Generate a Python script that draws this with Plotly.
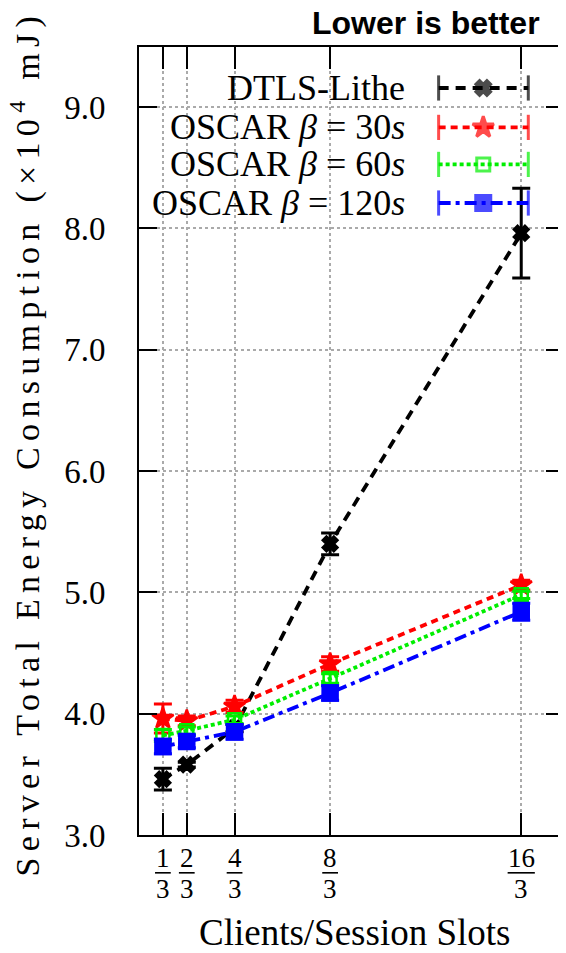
import plotly.graph_objects as go

# ---- data ----
x_vals = [1/3, 2/3, 4/3, 8/3, 16/3]
x_num = ["1", "2", "4", "8", "16"]
x_den = ["3", "3", "3", "3", "3"]

dtls = [3.46, 3.58, 3.88, 5.40, 7.96]
dtls_err = [0.09, 0.02, 0.03, 0.09, 0.37]
oscar30 = [3.96, 3.94, 4.06, 4.41, 5.06]
oscar30_err = [0.12, 0.04, 0.05, 0.06, 0.04]
oscar60 = [3.82, 3.86, 3.95, 4.29, 4.98]
oscar60_err = [0.05, 0.03, 0.03, 0.04, 0.03]
oscar120 = [3.73, 3.77, 3.85, 4.17, 4.84]
oscar120_err = [0.06, 0.05, 0.06, 0.06, 0.07]

y_ticks = [3, 4, 5, 6, 7, 8, 9]

series_names = ["DTLS-Lithe", "OSCAR <i>β</i> = 30<i>s</i>",
                "OSCAR <i>β</i> = 60<i>s</i>", "OSCAR <i>β</i> = 120<i>s</i>"]
series_vals = [dtls, oscar30, oscar60, oscar120]
series_err = [dtls_err, oscar30_err, oscar60_err, oscar120_err]
colors = ["#000000", "#ff0000", "#00ee00", "#0000ff"]
dashes = ["10px,7px", "7px,5px", "4px,3px", "12px,5px,4px,5px"]
symbols = ["x", "star", "square-open", "square"]
msizes = [13, 16, 13, 15]

SERIF = "Liberation Serif"

fig = go.Figure()

for name, vals, err, c, d, sym, ms in zip(series_names, series_vals, series_err,
                                         colors, dashes, symbols, msizes):
    fig.add_trace(go.Scatter(
        x=x_vals, y=vals, mode="lines+markers", name=name, showlegend=False,
        line=dict(color=c, width=3.8, dash=d),
        marker=dict(symbol=sym, size=ms, color=c, line=dict(color=c, width=2.5)),
        error_y=dict(type="data", array=err, visible=True, color=c,
                     thickness=3, width=9),
        xaxis="x", yaxis="y",
    ))

# legend samples (drawn on an overlay axis spanning the plot area 0..1)
leg_rows = [0.948, 0.898, 0.851, 0.802]
for name, c, d, sym, ms, ry in zip(series_names, colors, dashes, symbols, msizes, leg_rows):
    fig.add_trace(go.Scatter(
        x=[0.705, 0.81, 0.916], y=[ry, ry, ry], mode="lines+markers", showlegend=False,
        line=dict(color=c, width=3.8, dash=d),
        marker=dict(symbol=["line-ns-open", sym, "line-ns-open"], size=[18, ms, 18],
                    color=c, line=dict(color=c, width=3)),
        xaxis="x2", yaxis="y2", hoverinfo="skip",
    ))

annotations = []
for name, ry in zip(series_names, leg_rows):
    annotations.append(dict(
        x=0.63, y=ry, xref="paper", yref="paper", xanchor="right", yanchor="middle",
        text=name, showarrow=False, font=dict(family=SERIF, size=36, color="black")))

annotations.append(dict(
    x=-0.268, y=0.497, xref="paper", yref="paper", xanchor="center", yanchor="middle",
    textangle=-90, showarrow=False,
    text='<span style="letter-spacing:6.3px">Server Total Energy Consumption (×10<sup>4</sup> mJ)</span>',
    font=dict(family=SERIF, size=34, color="black")))

annotations.append(dict(
    x=0.506, y=-0.124, xref="paper", yref="paper", xanchor="center", yanchor="middle",
    text="Clients/Session Slots", showarrow=False,
    font=dict(family=SERIF, size=37, color="black")))

annotations.append(dict(
    x=0.675, y=1.031, xref="paper", yref="paper", xanchor="center", yanchor="middle",
    text="<b>Lower is better</b>", showarrow=False,
    font=dict(family="Liberation Sans", size=32, color="black")))

# fraction tick labels along the x axis
shapes = [dict(type="rect", xref="paper", yref="paper", x0=0.003, x1=0.95,
               y0=0.778, y1=0.997, fillcolor="white", line=dict(width=0),
               layer="between")]
for xv, n, dn in zip(x_vals, x_num, x_den):
    annotations.append(dict(x=xv, y=-0.029, xref="x", yref="paper", xanchor="center",
                            yanchor="middle", text=n, showarrow=False,
                            font=dict(family=SERIF, size=27, color="black")))
    annotations.append(dict(x=xv, y=-0.068, xref="x", yref="paper", xanchor="center",
                            yanchor="middle", text=dn, showarrow=False,
                            font=dict(family=SERIF, size=27, color="black")))
    hw = 0.11 if len(n) == 1 else 0.19
    shapes.append(dict(type="line", xref="x", yref="paper", x0=xv - hw, x1=xv + hw,
                       y0=-0.048, y1=-0.048, line=dict(color="black", width=1.6)))

fig.update_layout(
    width=558, height=945,
    margin=dict(l=131, r=0, t=39, b=118),
    paper_bgcolor="white", plot_bgcolor="white",
    showlegend=False,
    xaxis=dict(
        range=[0, 5.93], tickmode="array", tickvals=x_vals, showticklabels=False,
        ticks="inside", ticklen=22, tickwidth=1.5, tickcolor="black",
        showline=True, linewidth=2, linecolor="black", mirror="allticks",
        showgrid=True, gridcolor="#aaaaaa", gridwidth=1.5, griddash="dot",
        zeroline=False,
    ),
    yaxis=dict(
        range=[3, 9.495], tickmode="array", tickvals=y_ticks,
        ticktext=[f"{v:.1f}" for v in y_ticks],
        ticks="inside", ticklen=18, tickwidth=1.5, tickcolor="black",
        showline=True, linewidth=2, linecolor="black", mirror="allticks",
        showgrid=True, gridcolor="#aaaaaa", gridwidth=1.5, griddash="dot",
        zeroline=False, tickfont=dict(family=SERIF, size=33, color="black"),
        ticklabelstandoff=25,
    ),
    xaxis2=dict(overlaying="x", range=[0, 1], visible=False, anchor="y2"),
    yaxis2=dict(overlaying="y", range=[0, 1], visible=False, anchor="x2"),
    annotations=annotations,
    shapes=shapes,
)

fig.write_html("out.html")
